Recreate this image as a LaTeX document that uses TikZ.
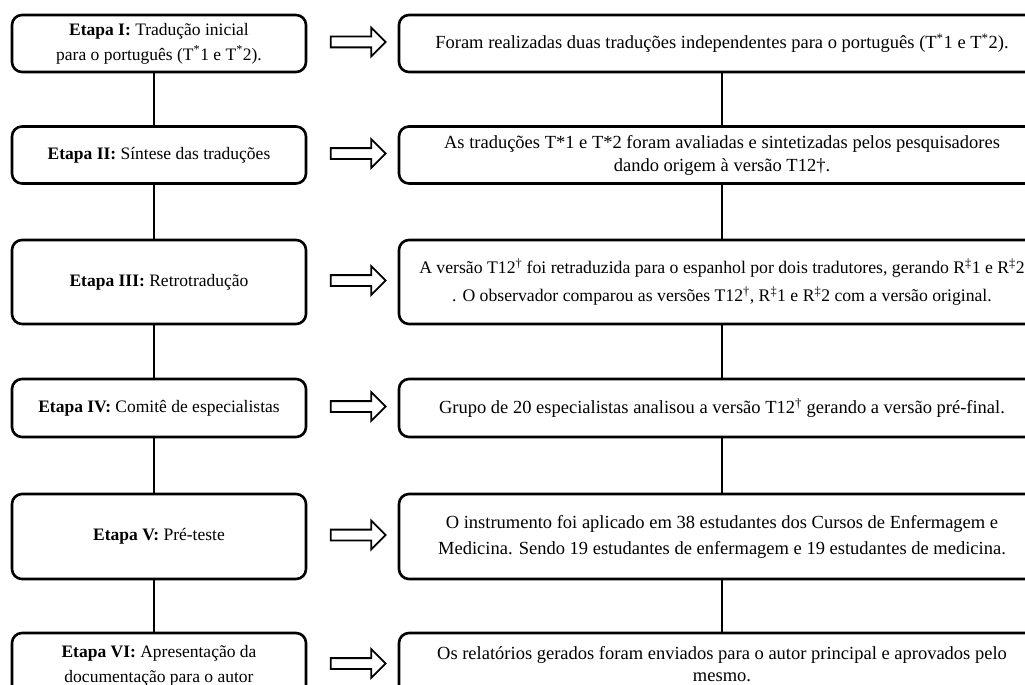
\documentclass[tikz,border=0pt]{standalone}
\usepackage{fontspec}
\setmainfont{Liberation Serif}
\usetikzlibrary{calc,shapes.arrows}
\tikzstyle{etapa}=[rectangle, rounded corners=10pt, draw=black, line width=2.6pt, fill=white, align=center, inner sep=0pt, font=\fontsize{17.5}{25}\selectfont]
\tikzstyle{stepleft}=[etapa, minimum width=294pt]
\tikzstyle{stepright}=[etapa, minimum width=646pt, font=\fontsize{18.5}{25}\selectfont]
\tikzstyle{link}=[line width=2.6pt]
\tikzstyle{blockarrow}=[single arrow, draw=black, line width=1.8pt, fill=white, minimum height=55pt, inner xsep=0pt, inner ysep=4.5pt, single arrow head extend=9pt]
\newcommand{\sps}[1]{\textsuperscript{#1}}

\begin{document}
\begin{tikzpicture}[x=1pt, y=-1pt]
	\useasboundingbox (0,0) rectangle (1025,685);
	\clip (0,0) rectangle (1025,685);

	% etapas
	\node[stepleft, minimum height=57pt](s1) at (159,43.5){\textbf{Etapa I:} Tradução inicial\\para o português (T\sps{*}1 e T\sps{*}2).};
	\node[stepleft, minimum height=57pt](s2) at (159,155){\textbf{Etapa II:} Síntese das traduções};
	\node[stepleft, minimum height=84pt](s3) at (159,282){\textbf{Etapa III:} Retrotradução};
	\node[stepleft, minimum height=58pt](s4) at (159,408){\textbf{Etapa IV:} Comitê de especialistas};
	\node[stepleft, minimum height=85pt](s5) at (159,536.5){\textbf{Etapa V:} Pré-teste};
	\node[stepleft, minimum height=66pt](s6) at (159,666){\textbf{Etapa VI:} Apresentação da\\documentação para o autor};

	% descricoes
	\node[stepright, minimum height=57pt](d1) at (722,43.5){Foram realizadas duas traduções independentes para o português (T\sps{*}1 e T\sps{*}2).};
	\node[stepright, minimum height=57pt, font=\fontsize{18.5}{23}\selectfont](d2) at (722,155){As traduções T*1 e T*2 foram avaliadas e sintetizadas pelos pesquisadores\\dando origem à versão T12†.};
	\node[stepright, minimum height=84pt, font=\fontsize{17.7}{28}\selectfont](d3) at (722,282){A versão T12\sps{†} foi retraduzida para o espanhol por dois tradutores, gerando R\sps{‡}1 e R\sps{‡}2\\. O observador comparou as versões T12\sps{†}, R\sps{‡}1 e R\sps{‡}2 com a versão original.};
	\node[stepright, minimum height=58pt](d4) at (722,408){Grupo de 20 especialistas analisou a versão T12\sps{†} gerando a versão pré-final.};
	\node[stepright, minimum height=85pt, font=\fontsize{18.5}{26}\selectfont](d5) at (722,536.5){O instrumento foi aplicado em 38 estudantes dos Cursos de Enfermagem e\\Medicina. Sendo 19 estudantes de enfermagem e 19 estudantes de medicina.};
	\node[stepright, minimum height=62pt, font=\fontsize{18.5}{22}\selectfont](d6) at (722,664){Os relatórios gerados foram enviados para o autor principal e aprovados pelo\\mesmo.};

	\foreach \i/\j in {1/2,2/3,3/4,4/5,5/6}{
		\draw[link] ([xshift=-5pt]s\i.south) -- ([xshift=-5pt]s\j.north);
		\draw[link] (d\i.south) -- (d\j.north);
	}
	\foreach \i in {1,...,6}
		\node[blockarrow, xshift=3pt, yshift=1.5pt](a\i) at ($(s\i.east)!0.5!(d\i.west)$){};

\end{tikzpicture}
\end{document}
